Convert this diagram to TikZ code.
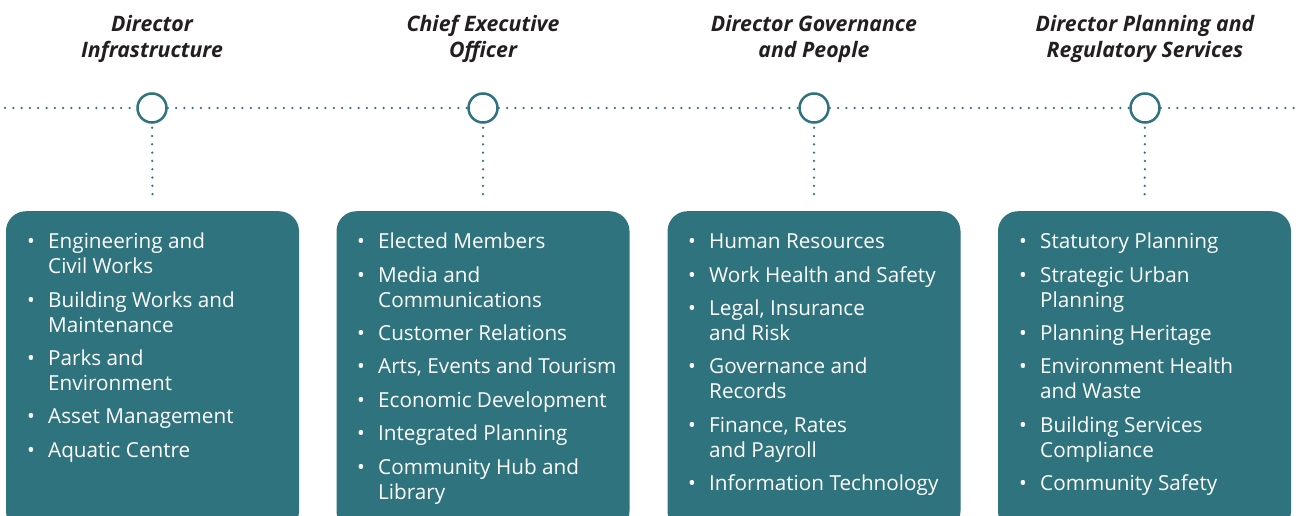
\documentclass[tikz,border=0pt]{standalone}
\usepackage{fontspec}
\setmainfont{Open Sans}
\definecolor{teal1}{HTML}{2E737D}
\definecolor{ink}{HTML}{231F20}
\newcommand{\bul}{\makebox[21pt][l]{\textbullet}}
\newcommand{\ind}{\hspace*{21pt}}
\begin{document}
\begin{tikzpicture}[x=1pt,y=-1pt,
  box/.style={fill=teal1, rounded corners=20pt, minimum width=293pt, minimum height=320pt, anchor=north, inner sep=0pt},
  hub/.style={circle, draw=teal1, line width=2.5pt, fill=white, minimum size=29pt, inner sep=0pt},
  dots/.style={draw=teal1, line width=2.5pt, line cap=round, dash pattern=on 0pt off 8.3pt},
  title/.style={align=center, text=ink, font=\fontsize{21.3}{26}\selectfont\bfseries\itshape},
  item/.style={anchor=north west, align=left, text=white, inner sep=0pt, font=\fontsize{20.7}{25}\selectfont}]
\useasboundingbox (0,0) rectangle (1298,516);
\begin{scope}
\clip (0,0) rectangle (1298,516);
% titles
\node[title] (t1) at (152,39) {Director\\Infrastructure};
\node[title] (t2) at (483,39) {Chief Executive\\Officer};
\node[title] (t3) at (814,39) {Director Governance\\and People};
\node[title] (t4) at (1145,39) {Director Planning and\\Regulatory Services};
% hubs
\node[hub] (c1) at (152,108) {};
\node[hub] (c2) at (483,108) {};
\node[hub] (c3) at (814,108) {};
\node[hub] (c4) at (1145,108) {};
\coordinate (L) at (5,108);
\coordinate (R) at (1300,108);
\draw[dots] (L) -- (c1.west);
\draw[dots] (c1.east) -- (c2.west);
\draw[dots] (c2.east) -- (c3.west);
\draw[dots] (c3.east) -- (c4.west);
\draw[dots] (c4.east) -- (R);
% boxes
\node[box] (b1) at (152.5,211) {};
\node[box] (b2) at (483,211) {};
\node[box] (b3) at (814,211) {};
\node[box] (b4) at (1144.5,211) {};
\foreach \i in {1,2,3,4}{
  \draw[dots, shorten <=4pt, shorten >=16pt] (c\i.south) -- (b\i.north);
}
% box 1
\node[item] (a1) at (27,231) {\strut\bul Engineering and\\\strut\ind Civil Works};
\node[item] (a2) at ([yshift=-8pt]a1.south west) {\strut\bul Building Works and\\\strut\ind Maintenance};
\node[item] (a3) at ([yshift=-8pt]a2.south west) {\strut\bul Parks and\\\strut\ind Environment};
\node[item] (a4) at ([yshift=-8pt]a3.south west) {\strut\bul Asset Management};
\node[item] (a5) at ([yshift=-8pt]a4.south west) {\strut\bul Aquatic Centre};
% box 2
\node[item] (e1) at (357,231) {\strut\bul Elected Members};
\node[item] (e2) at ([yshift=-8pt]e1.south west) {\strut\bul Media and\\\strut\ind Communications};
\node[item] (e3) at ([yshift=-8pt]e2.south west) {\strut\bul Customer Relations};
\node[item] (e4) at ([yshift=-8pt]e3.south west) {\strut\bul Arts, Events and Tourism};
\node[item] (e5) at ([yshift=-8pt]e4.south west) {\strut\bul Economic Development};
\node[item] (e6) at ([yshift=-8pt]e5.south west) {\strut\bul Integrated Planning};
\node[item] (e7) at ([yshift=-8pt]e6.south west) {\strut\bul Community Hub and\\\strut\ind Library};
% box 3
\node[item] (g1) at (688,231) {\strut\bul Human Resources};
\node[item] (g2) at ([yshift=-8pt]g1.south west) {\strut\bul Work Health and Safety};
\node[item] (g3) at ([yshift=-8pt]g2.south west) {\strut\bul Legal, Insurance\\\strut\ind and Risk};
\node[item] (g4) at ([yshift=-8pt]g3.south west) {\strut\bul Governance and\\\strut\ind Records};
\node[item] (g5) at ([yshift=-8pt]g4.south west) {\strut\bul Finance, Rates\\\strut\ind and Payroll};
\node[item] (g6) at ([yshift=-8pt]g5.south west) {\strut\bul Information Technology};
% box 4
\node[item] (p1) at (1019,231) {\strut\bul Statutory Planning};
\node[item] (p2) at ([yshift=-8pt]p1.south west) {\strut\bul Strategic Urban\\\strut\ind Planning};
\node[item] (p3) at ([yshift=-8pt]p2.south west) {\strut\bul Planning Heritage};
\node[item] (p4) at ([yshift=-8pt]p3.south west) {\strut\bul Environment Health\\\strut\ind and Waste};
\node[item] (p5) at ([yshift=-8pt]p4.south west) {\strut\bul Building Services\\\strut\ind Compliance};
\node[item] (p6) at ([yshift=-8pt]p5.south west) {\strut\bul Community Safety};
\end{scope}
\end{tikzpicture}
\end{document}
